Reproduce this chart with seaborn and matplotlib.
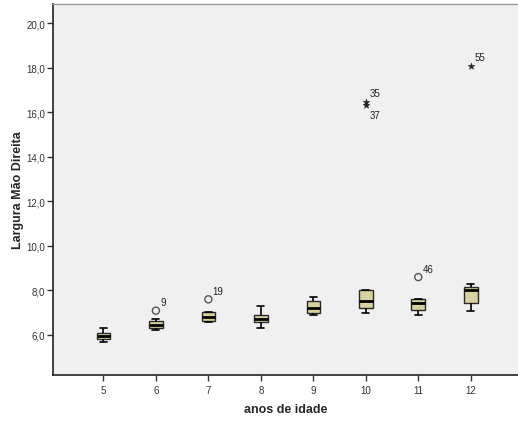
import numpy as np
import pandas as pd
import matplotlib
matplotlib.use("Agg")
import matplotlib.pyplot as plt
import seaborn as sns

# ---- data ----
ages = [5, 6, 7, 8, 9, 10, 11, 12]
whisker_low = [5.70, 6.22, 6.60, 6.30, 6.90, 7.00, 6.90, 7.09]
q1 = [5.82, 6.31, 6.64, 6.60, 6.99, 7.20, 7.11, 7.43]
median = [5.93, 6.45, 6.82, 6.72, 7.20, 7.51, 7.43, 8.02]
q3 = [6.07, 6.63, 7.03, 6.91, 7.51, 8.02, 7.60, 8.14]
whisker_high = [6.30, 6.72, 7.03, 7.30, 7.72, 8.02, 7.60, 8.29]

out_age = [6, 7, 11, 10, 10, 12]
out_value = [7.09, 7.60, 8.60, 16.48, 16.33, 18.10]
out_label = ["9", "19", "46", "35", "37", "55"]
out_kind = ["outlier", "outlier", "outlier", "extreme", "extreme", "extreme"]

y_ticks = [6, 8, 10, 12, 14, 16, 18, 20]

# ---- build long table ----
rows = []
for i, a in enumerate(ages):
    for v in (whisker_low[i], q1[i], median[i], q3[i], whisker_high[i]):
        rows.append({"idade": str(a), "valor": v})
df = pd.DataFrame(rows)
order = [str(a) for a in ages]

sns.set_style("white")
plt.rcParams["font.family"] = ["Liberation Sans", "DejaVu Sans"]

fig = plt.figure(figsize=(5.18, 4.27), dpi=100)
ax = fig.add_axes([53.3 / 518, 1 - 376 / 427, (518 - 53.3) / 518, (376 - 5) / 427])
ax.set_facecolor("#f0f0f0")

sns.boxplot(data=df, x="idade", y="valor", order=order, whis=np.inf,
            width=0.26, color="#d6d2a0", linewidth=1.0, linecolor="#2a2a2a",
            showfliers=False, ax=ax,
            medianprops={"color": "black", "linewidth": 2.0},
            whiskerprops={"color": "black", "linewidth": 1.2},
            capprops={"color": "black", "linewidth": 1.2},
            boxprops={"edgecolor": "#2a2a2a", "facecolor": "#d6d2a0"})

# outliers and extremes
odf = pd.DataFrame({"idade": [str(a) for a in out_age], "valor": out_value,
                    "lab": out_label, "kind": out_kind})
pos = {s: i for i, s in enumerate(order)}
circ = odf[odf.kind == "outlier"]
ext = odf[odf.kind == "extreme"]
ax.scatter([pos[s] for s in circ.idade], circ.valor, s=26, facecolors="none",
           edgecolors="#555555", linewidths=1.0, zorder=5)
ax.scatter([pos[s] for s in ext.idade], ext.valor, s=26, marker="*",
           color="#222222", linewidths=0.3, zorder=5)

for _, r in odf.iterrows():
    xp = pos[r.idade]
    dy = -7 if r.lab == "37" else 6
    ax.annotate(r.lab, (xp, r.valor), xytext=(3, dy), textcoords="offset points",
                fontsize=7, color="#222222", va="center", ha="left")

ax.set_xlim(-0.955, 7.9)
ax.set_ylim(4.2, 20.87)
ax.set_yticks(y_ticks)
ax.set_yticklabels([f"{t:.1f}".replace(".", ",") for t in y_ticks])
ax.tick_params(axis="both", which="both", direction="out", length=4, width=1,
               colors="#333333", labelsize=7, left=True, bottom=True, pad=2)
ax.tick_params(axis="x", pad=3)

for side in ("left", "bottom"):
    ax.spines[side].set_color("#222222")
    ax.spines[side].set_linewidth(1.2)
ax.spines["top"].set_color("#9a9a9a")
ax.spines["top"].set_linewidth(1.0)
ax.spines["right"].set_visible(False)

ax.set_xlabel("anos de idade", fontsize=9, fontweight="bold", labelpad=6)
ax.set_ylabel("Largura Mão Direita", fontsize=9, fontweight="bold", labelpad=1.5)

fig.savefig("out.png", dpi=100, facecolor="white")
